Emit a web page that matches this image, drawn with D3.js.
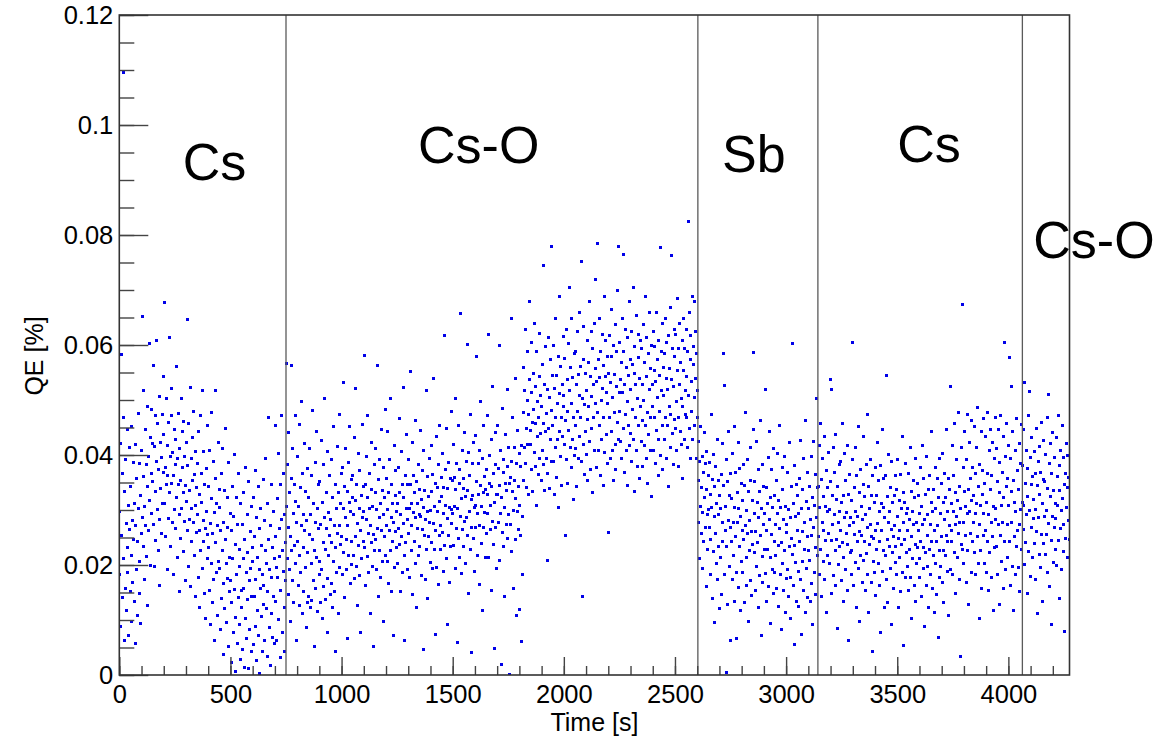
<!DOCTYPE html>
<html>
<head>
<meta charset="utf-8">
<script src="https://cdn.jsdelivr.net/npm/d3@7"></script>
<style>
  body { margin: 0; background: #fff; }
  svg { display: block; font-family: "Liberation Sans", Arial, Helvetica, sans-serif; }
</style>
</head>
<body>
<svg id="chart"></svg>
<script>
// QE readings, one every ~2 s, in units of 1e-4 %
const qeUnit = 1e-4;

// Segment boundaries in seconds and the names written in each segment
const segBounds = [0, 750, 2603, 3143, 4063, 4275];
const segNames = ["Cs", "Cs-O", "Sb", "Cs", "Cs-O"];

const qeCs1 = [
  297,183,421,88,582,253,366,141,468,212,1095,63,334,392,157,276,118,447,231,186,309,72,413,264,152,
  343,217,98,452,281,168,387,246,133,311,419,57,272,191,358,243,109,476,303,207,384,149,326,93,258,
  408,287,652,361,233,517,306,174,446,271,383,216,488,342,127,397,262,603,318,431,199,367,482,293,421,
  352,563,274,416,198,471,333,244,389,608,301,457,226,373,506,282,163,422,339,396,257,473,311,542,368,
  437,312,677,378,251,503,346,418,192,363,284,459,614,331,397,233,472,349,521,278,404,182,362,446,301,
  383,266,428,561,322,213,394,347,476,292,152,411,354,248,503,302,443,377,224,332,461,279,398,171,344,
  316,423,647,262,381,198,457,336,283,522,161,394,303,242,432,353,277,479,217,364,308,142,406,259,341,
  292,384,177,442,263,328,122,471,227,313,366,193,518,281,243,407,148,346,267,102,376,298,212,453,256,
  232,343,153,409,276,92,321,203,478,257,131,388,174,296,62,358,241,517,187,312,108,271,422,206,337,
  193,304,82,262,367,139,226,412,37,278,167,336,121,247,448,202,96,323,176,268,52,386,214,151,293,
  171,22,263,132,342,211,77,288,156,401,104,237,6,322,182,58,273,141,366,228,91,197,28,311,153,
  122,273,47,212,331,158,14,246,103,378,186,67,291,137,223,12,352,171,83,261,194,42,306,143,232,
  207,56,322,142,252,88,371,173,27,286,117,213,343,72,191,267,3,157,302,106,236,43,182,356,128,
  162,281,63,227,393,121,202,33,312,152,246,468,86,192,271,18,177,347,112,231,68,297,142,211,57,
  252,133,453,196,62,321,178,402,101,267,216,32,346,153,282,471,78,227,188,367,122,291,42,241,172
];

const qeCsO1 = [
  306,567,212,382,146,268,441,192,331,97,252,562,358,226,412,171,293,132,347,236,472,203,316,62,277,
  242,397,163,307,127,456,218,341,186,272,498,112,366,231,292,152,421,263,196,333,87,281,376,222,131,
  322,142,256,411,123,291,202,363,136,481,247,172,312,52,227,386,278,157,442,213,116,302,267,346,182,
  207,351,132,273,426,192,313,102,241,382,161,287,502,228,137,332,266,407,176,77,296,217,362,253,146,
  283,166,392,241,122,323,206,451,272,152,347,231,42,303,187,416,257,332,112,271,473,196,311,237,367,
  252,377,182,302,531,223,342,141,287,412,246,192,333,67,271,387,217,313,452,166,297,243,356,201,322,
  362,217,291,432,176,317,252,521,197,347,276,127,402,236,302,181,372,262,77,327,212,456,286,243,342,
  297,581,232,346,162,282,397,216,322,471,257,187,366,302,112,272,422,241,337,197,306,52,256,382,227,
  332,247,412,192,301,562,267,356,142,286,227,392,311,177,447,262,336,207,292,97,377,251,322,482,217,
  272,357,207,442,301,167,332,262,392,226,502,287,152,346,242,312,72,277,417,196,327,261,372,232,297,
  312,202,377,267,466,237,332,152,292,407,251,347,187,522,276,322,217,62,362,241,302,437,192,282,347,
  257,392,302,177,346,552,227,312,272,422,147,296,362,242,332,202,462,287,122,352,266,312,382,217,292,
  338,234,289,444,181,319,264,371,46,304,409,253,336,174,283,518,229,361,298,139,324,251,394,278,204,
  299,418,241,334,193,364,276,539,228,306,74,349,263,434,196,298,341,164,383,254,316,453,229,271,359,
  324,259,403,189,341,294,618,236,374,309,211,448,284,91,339,253,386,304,169,358,233,479,301,276,354,
  294,419,236,359,306,503,194,338,266,384,59,303,454,249,348,214,373,658,289,321,184,408,264,339,233,
  358,279,441,324,203,389,286,601,254,336,149,404,298,363,229,474,319,41,268,384,326,249,423,304,188,
  309,436,269,351,579,294,218,384,328,164,409,271,344,498,239,306,394,118,331,269,453,296,361,214,338,
  374,258,329,471,294,619,213,348,399,264,308,154,429,343,279,524,238,366,49,314,383,269,441,328,194,
  329,454,278,376,209,599,344,293,408,19,323,259,484,369,234,391,304,143,349,438,274,336,519,248,379,
  291,414,348,1,359,273,649,388,224,334,468,299,158,413,354,246,539,321,384,109,298,444,343,264,403,
  308,119,379,254,61,418,183,289,478,354,559,413,518,384,629,449,341,499,588,419,474,329,538,679,444,
  419,514,373,604,459,334,548,483,404,639,379,524,458,309,589,434,498,364,469,621,394,543,439,509,353,
  489,409,564,383,458,744,336,529,443,598,394,476,209,519,366,614,448,504,339,574,428,779,481,389,544,
  454,599,388,521,329,468,649,413,544,359,494,428,579,304,511,443,689,398,561,469,344,528,434,616,488,
  509,419,576,254,463,629,391,538,479,349,603,444,518,704,414,559,378,493,648,429,541,319,468,584,399,
  453,589,411,528,343,624,479,546,394,508,659,433,561,469,388,752,142,503,574,419,633,364,491,549,443,
  518,401,609,464,353,569,488,679,424,543,374,506,624,449,594,331,529,468,639,409,558,494,719,378,534,
  784,478,574,409,541,648,454,363,589,499,428,619,521,344,563,469,688,404,543,609,438,514,384,579,493,
  548,259,469,618,394,531,579,443,664,408,504,354,599,478,546,419,638,374,524,588,459,699,428,779,513,
  479,604,538,424,569,393,514,649,764,448,589,368,529,474,628,409,559,498,344,614,453,544,679,418,574,
  519,439,624,388,564,483,704,429,549,334,598,469,528,408,654,503,379,578,454,619,358,539,488,609,424,
  594,463,529,379,638,499,418,569,453,689,394,543,614,478,349,584,438,519,659,408,558,469,599,324,528,
  488,624,409,553,469,598,384,533,659,444,573,504,363,609,428,544,479,778,399,589,518,454,639,373,559,
  508,429,584,468,649,393,539,604,453,519,343,618,489,558,414,669,473,762,538,439,594,383,524,628,464,
  579,448,619,498,409,554,684,468,593,379,528,639,443,569,503,419,608,489,358,553,649,428,594,518,474,
  543,629,468,589,414,824,508,659,449,573,394,618,534,479,688,429,564,598,504,679,453,539,624,393,584,469,518
];

const qeSb = [
  353,277,424,211,388,307,452,258,341,194,397,296,368,242,441,323,269,384,161,337,406,292,228,363,301,
  268,386,182,329,247,473,304,139,356,224,401,288,96,343,257,379,203,311,428,174,292,354,233,121,327,
  302,213,364,147,278,421,243,585,344,527,183,306,262,391,4,233,352,128,281,443,197,326,269,63,367,
  243,321,174,402,277,218,451,133,304,252,368,186,66,331,278,423,159,303,234,376,117,289,348,206,263,
  318,187,383,246,132,344,271,477,213,299,163,392,258,334,98,281,226,413,172,353,261,144,317,238,446,
  587,223,294,352,153,261,424,198,313,241,373,122,286,334,181,463,254,71,302,216,383,168,273,343,229,
  293,184,520,263,341,134,312,228,396,161,283,442,214,322,93,256,374,191,304,148,411,243,327,186,274,
  218,353,157,293,402,236,124,318,266,453,182,304,83,241,378,203,337,154,282,227,398,113,306,259,176,
  274,192,368,143,301,233,422,178,286,103,343,248,602,219,312,163,381,236,56,288,204,347,133,262,326,
  188,293,124,357,243,426,173,302,74,261,338,207,393,153,277,228,462,114,316,193,251,368,141,303,226,
  342,208,283,134,397,253,166,323,92,268,424,187,308,231,364,146,287,502,218,341
];

const qeCs2 = [
  343,251,418,182,304,457,228,356,143,277,393,206,324,262,433,174,306,244,372,113,298,341,218,404,257,
  301,203,538,352,520,244,148,327,273,414,181,292,368,226,437,163,319,247,84,342,278,201,383,297,234,
  262,388,172,313,241,458,214,327,133,286,403,191,354,258,296,153,417,238,328,63,271,364,223,287,183,
  318,227,391,605,278,163,341,256,413,204,297,123,363,242,288,452,194,332,261,97,373,218,306,253,168,
  283,347,208,433,242,324,153,291,383,221,268,473,182,343,114,302,238,391,273,168,327,252,43,363,207,
  248,313,186,378,262,144,327,229,423,276,203,353,162,298,243,381,78,312,263,447,188,304,227,358,122,
  287,218,363,173,545,247,324,132,278,401,233,298,193,341,264,92,388,223,313,251,158,327,272,204,362,
  233,337,183,288,392,248,123,317,262,213,364,152,303,238,434,187,278,332,53,247,313,178,384,222,293,
  302,198,263,367,153,282,228,413,177,334,252,103,298,212,353,274,162,323,237,393,134,277,203,348,232,
  263,327,178,293,212,378,242,143,307,273,417,193,232,358,88,283,222,328,163,397,253,292,198,337,123,
  228,362,273,182,313,242,443,157,298,218,337,113,263,377,203,302,243,147,358,272,68,323,227,393,177,
  293,197,348,252,168,403,227,313,132,283,367,218,322,253,447,188,297,243,357,108,272,338,192,525,263,
  312,243,417,183,297,363,222,457,273,148,332,288,392,213,317,258,477,173,342,278,33,302,237,413,228,
  673,277,378,202,333,442,253,307,168,392,293,227,473,337,128,297,423,257,358,187,318,462,243,377,278,
  327,223,452,293,367,183,312,413,252,487,203,342,273,103,382,308,227,443,157,328,372,253,467,294,202,
  348,262,433,187,313,477,243,367,153,292,408,222,338,447,278,177,363,252,423,117,307,393,232,468,282,
  303,412,233,352,183,447,273,332,128,387,253,472,308,207,368,277,433,157,323,605,242,398,192,343,457,
  273,357,213,417,308,578,242,393,162,333,525,277,443,197,353,117,313,252,408,182,298,467,233,372,263,
  338,196,421,274,152,384,301,229,456,314
];

const qeCsO2 = [
  381,264,446,309,201,531,349,241,409,291,149,376,324,471,224,516,299,396,179,346,269,431,214,361,284,
  319,406,239,366,174,301,449,261,344,111,389,286,219,416,329,196,369,256,459,311,134,356,239,426,289,
  351,219,401,299,256,469,186,339,510,276,384,161,324,421,244,91,366,289,441,204,336,269,396,229,311,
  284,431,199,361,309,471,244,381,139,336,409,266,299,191,454,321,224,396,274,346,79,366,249,421,304,
  341,214,399,281,359,246
];

// Axis ranges
const xMax = 4275;
const yMax = 0.12;

// Layout
const width = 1158;
const height = 739;
const margin = { top: 15, right: 88.5, bottom: 64, left: 119.3 };
const plotW = width - margin.left - margin.right;
const plotH = height - margin.top - margin.bottom;

// Where the segment names sit: anchor time (s) and baseline (px)
const labelTime = [285, 1344, 2712, 3500, 4112];
const labelBaseline = [180, 163, 172, 162, 258];

const svg = d3.select("#chart")
  .attr("width", width)
  .attr("height", height);

const x = d3.scaleLinear().domain([0, xMax]).range([0, plotW]);
const y = d3.scaleLinear().domain([0, yMax]).range([plotH, 0]);

const g = svg.append("g")
  .attr("transform", "translate(" + margin.left + "," + margin.top + ")");

// Build the point list: each segment's readings spread over its time span
const segments = [qeCs1, qeCsO1, qeSb, qeCs2, qeCsO2];
const points = [];
segments.forEach((vals, s) => {
  const t0 = segBounds[s];
  const dt = (segBounds[s + 1] - t0) / vals.length;
  vals.forEach((v, i) => points.push({ t: t0 + (i + 0.5) * dt, qe: v * qeUnit }));
});

g.append("clipPath").attr("id", "clip")
  .append("rect").attr("width", plotW).attr("height", plotH);

const markerSize = 3;
g.append("g")
  .attr("clip-path", "url(#clip)")
  .attr("shape-rendering", "crispEdges")
  .selectAll("rect")
  .data(points)
  .enter()
  .append("rect")
  .attr("x", d => x(d.t) - markerSize / 2)
  .attr("y", d => y(d.qe) - markerSize / 2)
  .attr("width", markerSize)
  .attr("height", markerSize)
  .attr("fill", "#0000e8");

// Segment separators
g.append("g").selectAll("line")
  .data(segBounds.slice(1, -1))
  .enter()
  .append("line")
  .attr("x1", d => x(d)).attr("x2", d => x(d))
  .attr("y1", 0).attr("y2", plotH)
  .attr("stroke", "#5a5a5a")
  .attr("stroke-width", 1.3);

// Axes (ROOT style: ticks point inward)
const tickFont = 25.5;

const yMajor = g.append("g")
  .call(d3.axisLeft(y).tickValues(y.ticks(6)).tickSize(-29).tickPadding(6)
    .tickFormat(d3.format(".2~f")));
const yMinor = g.append("g")
  .call(d3.axisLeft(y).tickValues(y.ticks(24)).tickSize(-15).tickFormat(""));

const xMajor = g.append("g")
  .attr("transform", "translate(0," + plotH + ")")
  .call(d3.axisBottom(x).tickValues(d3.range(0, xMax + 1, 500)).tickSize(-18).tickPadding(10)
    .tickFormat(d3.format("d")));
const xMinor = g.append("g")
  .attr("transform", "translate(0," + plotH + ")")
  .call(d3.axisBottom(x).tickValues(d3.range(0, xMax + 1, 100)).tickSize(-9).tickFormat(""));

[yMajor, yMinor, xMajor, xMinor].forEach(a => {
  a.select(".domain").remove();
  a.selectAll("line").attr("stroke", "#444").attr("stroke-width", 1.4);
  a.selectAll("text")
    .attr("fill", "#000")
    .style("font-size", tickFont + "px")
    .style("font-family", "'Liberation Sans', Arial, Helvetica, sans-serif");
});

// Frame
g.append("rect")
  .attr("width", plotW)
  .attr("height", plotH)
  .attr("fill", "none")
  .attr("stroke", "#333")
  .attr("stroke-width", 1.6);

// Axis titles
svg.append("text")
  .attr("x", margin.left + plotW / 2)
  .attr("y", 731)
  .attr("text-anchor", "middle")
  .style("font-size", "25px")
  .text("Time [s]");

svg.append("text")
  .attr("transform", "translate(43,356) rotate(-90)")
  .attr("text-anchor", "middle")
  .style("font-size", "25px")
  .text("QE [%]");

// Segment names
g.append("g").selectAll("text")
  .data(segNames)
  .enter()
  .append("text")
  .attr("x", (d, i) => x(labelTime[i]))
  .attr("y", (d, i) => labelBaseline[i] - margin.top)
  .style("font-size", "52px")
  .attr("fill", "#000")
  .text(d => d);
</script>
</body>
</html>
